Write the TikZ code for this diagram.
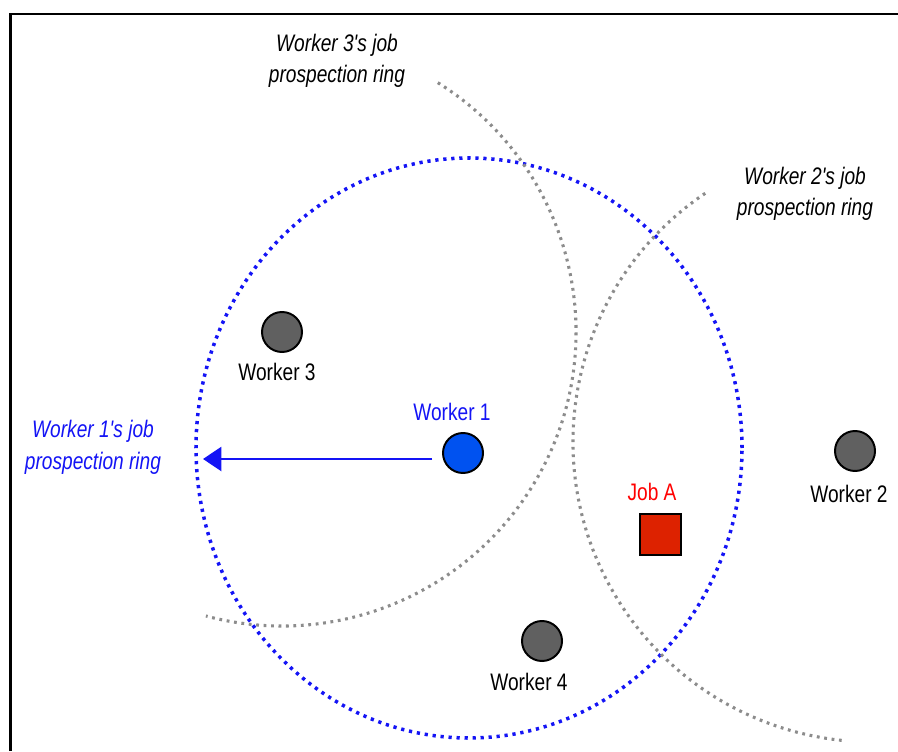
\documentclass[tikz,border=0pt]{standalone}
\usepackage{fontspec}
\newfontfamily\figfont[FakeStretch=0.8]{Liberation Sans}
\usetikzlibrary{arrows.meta}

\definecolor{ringblue}{RGB}{20,20,245}
\definecolor{ringgray}{RGB}{140,140,140}
\definecolor{workergray}{RGB}{96,96,96}
\definecolor{workerblue}{RGB}{0,82,240}
\definecolor{jobred}{RGB}{221,34,0}

\begin{document}
\begin{tikzpicture}[x=0.025cm, y=0.025cm,
  font=\figfont\fontsize{17}{22.5}\selectfont,
  worker/.style={circle, draw=black, line width=1.4pt, fill=workergray, minimum size=1cm, inner sep=0pt},
  wlabel/.style={inner sep=0pt},
  ringnote/.style={align=center, inner sep=0pt, font=\figfont\itshape\fontsize{17}{22.5}\selectfont},
  bluering/.style={draw=ringblue, line width=2.5pt, dash pattern=on 2.3pt off 3.4pt},
  grayring/.style={draw=ringgray, line width=2.2pt, dash pattern=on 2pt off 3.3pt}]
\useasboundingbox (0,0) rectangle (898,751);
\draw[line width=2pt] (10.5,0) -- (10.5,737) -- (898,737);

\node[worker, fill=workerblue] (W1) at (463,298) {};
\node[worker] (W2) at (855,300) {};
\node[worker] (W3) at (282,419) {};
\node[worker] (W4) at (542,110) {};
\node[rectangle, draw=black, line width=1.4pt, fill=jobred, minimum size=1.02cm, inner sep=0pt] (JOBA) at (660.5,216.5) {};

\node[wlabel, text=ringblue] (W1LBL) at (452,339) {Worker 1};
\node[wlabel] (W2LBL) at (849,257) {Worker 2};
\node[wlabel] (W3LBL) at (277,379) {Worker 3};
\node[wlabel] (W4LBL) at (529,69) {Worker 4};
\node[wlabel, text=red] (JOBALBL) at (652,259) {Job A};

\node[ringnote, text=ringblue] (RING1) at (93,304) {Worker 1's job\\prospection ring};
\node[ringnote] (RING2) at (805,557) {Worker 2's job\\prospection ring};
\node[ringnote] (RING3) at (337,690) {Worker 3's job\\prospection ring};

\coordinate (C1) at (469,303);
\coordinate (C2) at (873,309);
\coordinate (TIP) at (203,292);

\draw[bluering] (C1) ellipse [x radius=273, y radius=290];
\draw[grayring] (W3) ++(58:294) arc [start angle=58, end angle=-105, radius=294];
\draw[grayring] (C2) ++(124:300) arc [start angle=124, end angle=264, radius=300];

\draw[-{Triangle[length=13pt,width=17pt]}, draw=ringblue, fill=ringblue, line width=1.8pt, shorten <=7pt] (W1.west |- TIP) -- (TIP);
\end{tikzpicture}
\end{document}
